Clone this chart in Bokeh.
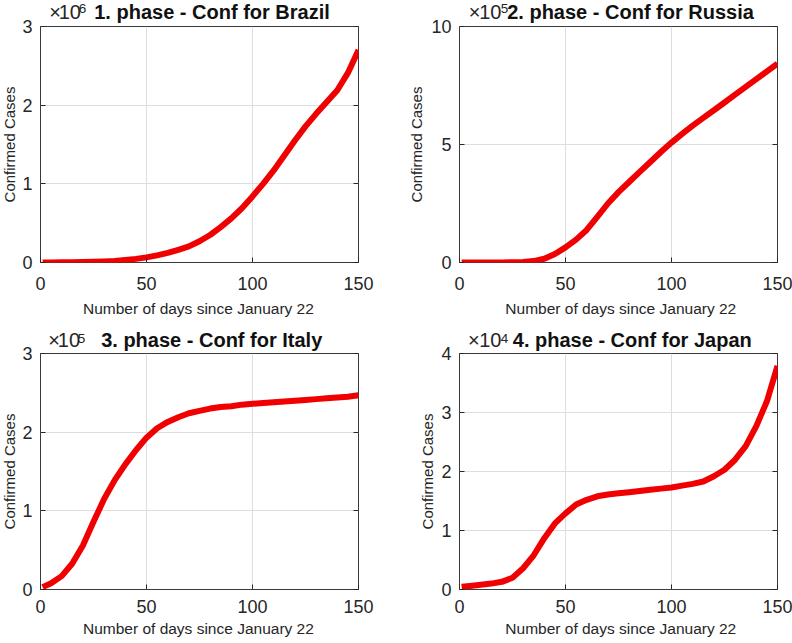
import math
from bokeh.plotting import figure
from bokeh.models import Range1d, FixedTicker, LinearAxis, Label
from bokeh.layouts import row, column
from bokeh.embed import file_html
from bokeh.resources import INLINE

# ---------------- data ----------------
days = [1, 5, 10, 15, 20, 25, 30, 35, 40, 45, 50, 55, 60, 65, 70, 75,
        80, 85, 90, 95, 100, 105, 110, 115, 120, 125, 130, 135, 140, 145, 150]

brazil = [0, 1000, 2000, 3000, 5000, 8000, 13000, 20000, 32000, 46000,
          65000, 90000, 122000, 162000, 205000, 270000, 350000, 450000,
          560000, 690000, 840000, 1000000, 1170000, 1360000, 1550000,
          1730000, 1890000, 2040000, 2190000, 2410000, 2700000]

russia = [0, 0, 0, 0, 500, 1000, 2000, 6000, 16000, 36000, 64000, 97000,
          138000, 193000, 250000, 298000, 341000, 384000, 426000, 468000,
          508000, 545000, 580000, 613000, 645000, 678000, 711000, 744000,
          777000, 810000, 843000]

italy = [3000, 8000, 17000, 33000, 56000, 86000, 115000, 139000, 159000,
         177000, 193000, 205000, 213000, 219000, 224000, 227000, 230000,
         232000, 233000, 235000, 236000, 237000, 238000, 239000, 240000,
         241000, 242000, 243000, 244000, 245000, 247000]

japan = [450, 600, 800, 1000, 1300, 2000, 3600, 5800, 8700, 11200, 12900,
         14400, 15200, 15800, 16100, 16300, 16500, 16700, 16900, 17100,
         17300, 17600, 17900, 18300, 19200, 20300, 22000, 24300, 27700,
         31900, 37900]

titles = ["1. phase - Conf for Brazil", "2. phase - Conf for Russia",
          "3. phase - Conf for Italy", "4. phase - Conf for Japan"]
exponents = [6, 5, 5, 4]
y_ticks = [[0, 1, 2, 3], [0, 5, 10], [0, 1, 2, 3], [0, 1, 2, 3, 4]]
y_max = [3, 10, 3, 4]
x_ticks = [0, 50, 100, 150]
x_label = "Number of days since January 22"
y_label = "Confirmed Cases"

FONT = "Liberation Sans"
TXT = "#262626"
MID = 0.3465      # distance baseline -> middle of the text box, in em
FRAME_W, FRAME_H = 318, 236


def strip(w, h, y_range=None):
    """A blank canvas (no axes) that holds text outside an axes box."""
    s = figure(width=w, height=h, x_range=Range1d(0, w),
               y_range=y_range if y_range is not None else Range1d(0, h),
               min_border_left=0, min_border_right=0,
               min_border_top=0, min_border_bottom=0,
               x_axis_location=None, y_axis_location=None,
               output_backend="svg", toolbar_location=None,
               background_fill_color="white", border_fill_color="white")
    s.title.visible = False
    s.outline_line_color = None
    s.grid.visible = False
    return s


def text_at(s, h, x, base, text, size, bold=False, align="left", color=TXT):
    # 'base' = wanted baseline in px from the strip top
    s.add_layout(Label(x=x, y=h - (base - MID * size), text=text,
                       text_font=FONT, text_font_size=f"{size}px",
                       text_font_style="bold" if bold else "normal",
                       text_color=color, text_align=align,
                       text_baseline="middle"))


def title_strip(w, h, title, exp, pos):
    (x_times, x_ten, x_exp, x_title, base_ten, base_exp, base_title) = pos
    s = strip(w, h)
    text_at(s, h, x_times, base_ten, "×", 20)
    text_at(s, h, x_ten, base_ten, "10", 20)
    text_at(s, h, x_exp, base_exp, str(exp), 13.5)
    text_at(s, h, x_title, base_title, title, 20, bold=True, color="#111111")
    return s


def left_strip(w, h, frame_bottom, ymax, yt, ylab_base):
    """Y tick labels and the y label; its data range lines up with the axes box."""
    per_px = ymax / FRAME_H
    yr = Range1d(-(h - frame_bottom) * per_px, frame_bottom * per_px)
    s = strip(w, h, yr)
    s.add_layout(Label(x=ylab_base - MID * 15, y=ymax / 2, text=y_label,
                       angle=math.pi / 2, text_font=FONT, text_font_size="15px",
                       text_color=TXT, text_align="center",
                       text_baseline="middle"))
    for t in yt:
        s.add_layout(Label(x=w - 1, y=t, text=str(t), text_font=FONT,
                           text_font_size="18px", text_color=TXT,
                           text_align="right", text_baseline="middle"))
    return s


def xlabel_strip(w, h, x_left, base):
    s = strip(w, h)
    text_at(s, h, x_left, base, x_label, 15.5, align="left")
    return s


def panel(values, exp, yt, ymax, lay):
    (w, h, bl, br, bt, bb, tick_dy) = lay
    p = figure(width=w, height=h,
               x_range=Range1d(0, 150), y_range=Range1d(0, ymax),
               min_border_left=bl, min_border_right=br,
               min_border_top=bt, min_border_bottom=bb,
               output_backend="svg", toolbar_location=None,
               background_fill_color="white", border_fill_color="white")
    p.title.visible = False
    p.outline_line_color = "#3a3a3a"
    p.outline_line_width = 1
    scale = 10 ** exp
    ys = [v / scale for v in values]
    p.line(days, ys, line_width=6, line_color="#f00000", line_join="round")

    for ax in p.xaxis:
        ax.ticker = FixedTicker(ticks=x_ticks)
        ax.major_label_standoff = tick_dy
        ax.major_label_text_font = FONT
        ax.major_label_text_font_size = "18px"
        ax.major_label_text_color = TXT
    # left ticks only (labels are drawn in the strip on the left), mirrored right ticks
    right = LinearAxis()
    p.add_layout(right, "right")
    for ax in list(p.yaxis):
        ax.ticker = FixedTicker(ticks=yt)
        ax.major_label_overrides = {t: "" for t in yt}
        ax.major_label_text_font_size = "1px"
        ax.major_label_standoff = 0
    for ax in list(p.xaxis) + list(p.yaxis):
        ax.major_tick_in = 5
        ax.major_tick_out = 0
        ax.minor_tick_line_color = None
        ax.axis_line_color = None
        ax.axis_label_standoff = 0
        ax.major_tick_line_color = "#262626"

    p.xgrid.ticker = FixedTicker(ticks=x_ticks)
    p.ygrid.ticker = FixedTicker(ticks=yt)
    p.grid.grid_line_color = "#dedede"
    p.grid.grid_line_width = 1
    return p


def block(i, values, left_w, main_w, right_b, heights, ylab_base, tpos,
          tick_dy, xlab_base):
    (h_title, h_main, h_xlab, bt, bb) = heights
    total = h_title + h_main + h_xlab
    frame_bottom = h_title + bt + FRAME_H
    ls = left_strip(left_w, total, frame_bottom, y_max[i], y_ticks[i], ylab_base)
    ts = title_strip(main_w, h_title, titles[i], exponents[i], tpos)
    lay = (main_w, h_main, 7, right_b, bt, bb, tick_dy)
    pm = panel(values, exponents[i], y_ticks[i], y_max[i], lay)
    xs = xlabel_strip(main_w, h_xlab, 49, xlab_base)
    return row(ls, column(ts, pm, xs))


# heights: (title strip, main, x-label strip, top border, bottom border)
top_h = (24, 275, 22, 2, 37)
bot_h = (30, 267, 21, 2, 29)

# title positions (x_times, x_ten, x_exp, x_title, base_ten, base_exp, base_title)
b1 = block(0, brazil, 33, 367, 42, top_h, 13.7,
           (10, 21, 44, 62, 18.2, 12.4, 18.2), 14, 14)
b2 = block(1, russia, 52, 340, 15, top_h, 21,
           (10, 21, 44, 51, 18.2, 12.4, 18.2), 14, 14)
b3 = block(2, italy, 33, 367, 42, bot_h, 13.7,
           (9, 20, 43, 70, 25.5, 21.5, 25), 10, 15)
b4 = block(3, japan, 52, 340, 15, bot_h, 32,
           (9, 21, 44, 57, 25.5, 21.5, 25), 10, 15)

layout = column(row(b1, b2), row(b3, b4))

open("out.html", "w").write(file_html(layout, INLINE))
